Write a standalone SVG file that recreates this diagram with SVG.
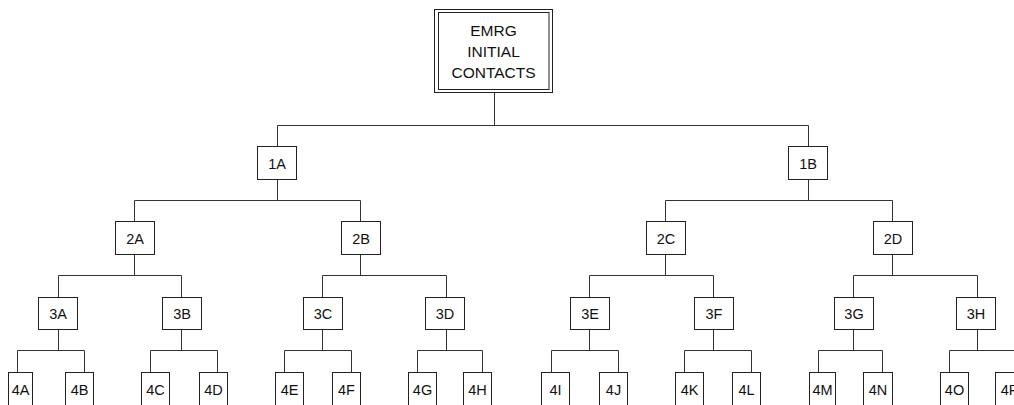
<svg xmlns="http://www.w3.org/2000/svg" width="1014" height="405" viewBox="0 0 1014 405">
<style>
.b{fill:#fff;stroke:#222;stroke-width:1}
.t{font-family:"Liberation Sans",Arial,sans-serif;font-size:14.5px;fill:#111;text-anchor:middle}
.tt{font-family:"Liberation Sans",Arial,sans-serif;font-size:15.5px;fill:#111;text-anchor:middle}
#connectors path{fill:none;stroke:#333;stroke-width:1}
</style>
<rect width="1014" height="405" fill="#fff"/>
<g id="connectors">
<path d="M494.5 92V125.5M277.5 125.5H808.5M277.5 125.5V146.5M808.5 125.5V146.5"/>
<path d="M277.5 179.5V200.5M134.5 200.5H360.5M134.5 200.5V221.5M360.5 200.5V221.5"/>
<path d="M808.5 179.5V200.5M665.5 200.5H892.5M665.5 200.5V221.5M892.5 200.5V221.5"/>
<path d="M134.5 254.5V275.5M58.5 275.5H181.5M58.5 275.5V297.5M181.5 275.5V297.5"/>
<path d="M360.5 254.5V275.5M322.5 275.5H446.5M322.5 275.5V297.5M446.5 275.5V297.5"/>
<path d="M665.5 254.5V275.5M589.5 275.5H713.5M589.5 275.5V297.5M713.5 275.5V297.5"/>
<path d="M892.5 254.5V275.5M853.5 275.5H977.5M853.5 275.5V297.5M977.5 275.5V297.5"/>
<path d="M58.5 329.5V350.5M17.5 350.5H84.5M17.5 350.5V372.5M84.5 350.5V372.5"/>
<path d="M181.5 329.5V350.5M150.5 350.5H217.5M150.5 350.5V372.5M217.5 350.5V372.5"/>
<path d="M322.5 329.5V350.5M284.5 350.5H351.5M284.5 350.5V372.5M351.5 350.5V372.5"/>
<path d="M446.5 329.5V350.5M417.5 350.5H482.5M417.5 350.5V372.5M482.5 350.5V372.5"/>
<path d="M589.5 329.5V350.5M551.5 350.5H618.5M551.5 350.5V372.5M618.5 350.5V372.5"/>
<path d="M713.5 329.5V350.5M684.5 350.5H751.5M684.5 350.5V372.5M751.5 350.5V372.5"/>
<path d="M853.5 329.5V350.5M818.5 350.5H882.5M818.5 350.5V372.5M882.5 350.5V372.5"/>
<path d="M977.5 329.5V350.5M949.5 350.5H1014.5M949.5 350.5V372.5M1014.5 350.5V372.5"/>
</g>
<g id="root">
<rect x="434.5" y="9.5" width="118" height="83" fill="#fff" stroke="#222"/>
<rect x="438.5" y="12.5" width="110.5" height="77" fill="none" stroke="#222"/>
<text class="tt" x="493.5" y="35.5">EMRG</text>
<text class="tt" x="493.5" y="56.5">INITIAL</text>
<text class="tt" x="493.5" y="77.5">CONTACTS</text>
</g>
<g id="n1A"><rect class="b" x="257.5" y="146.5" width="39" height="33"/><text class="t" x="277" y="168.5">1A</text></g>
<g id="n1B"><rect class="b" x="788.5" y="146.5" width="39" height="33"/><text class="t" x="808" y="168.5">1B</text></g>
<g id="n2A"><rect class="b" x="115.5" y="221.5" width="39" height="33"/><text class="t" x="135" y="243.5">2A</text></g>
<g id="n2B"><rect class="b" x="341.5" y="221.5" width="39" height="33"/><text class="t" x="361" y="243.5">2B</text></g>
<g id="n2C"><rect class="b" x="646.5" y="221.5" width="39" height="33"/><text class="t" x="666" y="243.5">2C</text></g>
<g id="n2D"><rect class="b" x="873.5" y="221.5" width="39" height="33"/><text class="t" x="893" y="243.5">2D</text></g>
<g id="n3A"><rect class="b" x="38.5" y="297.5" width="39" height="32"/><text class="t" x="58" y="318.5">3A</text></g>
<g id="n3B"><rect class="b" x="162.5" y="297.5" width="39" height="32"/><text class="t" x="182" y="318.5">3B</text></g>
<g id="n3C"><rect class="b" x="303.5" y="297.5" width="39" height="32"/><text class="t" x="323" y="318.5">3C</text></g>
<g id="n3D"><rect class="b" x="425.5" y="297.5" width="39" height="32"/><text class="t" x="445" y="318.5">3D</text></g>
<g id="n3E"><rect class="b" x="570.5" y="297.5" width="39" height="32"/><text class="t" x="590" y="318.5">3E</text></g>
<g id="n3F"><rect class="b" x="694.5" y="297.5" width="39" height="32"/><text class="t" x="714" y="318.5">3F</text></g>
<g id="n3G"><rect class="b" x="834.5" y="297.5" width="39" height="32"/><text class="t" x="854" y="318.5">3G</text></g>
<g id="n3H"><rect class="b" x="956.5" y="297.5" width="39" height="32"/><text class="t" x="976" y="318.5">3H</text></g>
<g id="n4A"><rect class="b" x="8.5" y="372.5" width="24" height="34"/><text class="t" x="20.5" y="395">4A</text></g>
<g id="n4B"><rect class="b" x="65.5" y="372.5" width="28" height="34"/><text class="t" x="79.5" y="395">4B</text></g>
<g id="n4C"><rect class="b" x="141.5" y="372.5" width="28" height="34"/><text class="t" x="155.5" y="395">4C</text></g>
<g id="n4D"><rect class="b" x="199.5" y="372.5" width="28" height="34"/><text class="t" x="213.5" y="395">4D</text></g>
<g id="n4E"><rect class="b" x="275.5" y="372.5" width="28" height="34"/><text class="t" x="289.5" y="395">4E</text></g>
<g id="n4F"><rect class="b" x="332.5" y="372.5" width="28" height="34"/><text class="t" x="346.5" y="395">4F</text></g>
<g id="n4G"><rect class="b" x="408.5" y="372.5" width="28" height="34"/><text class="t" x="422.5" y="395">4G</text></g>
<g id="n4H"><rect class="b" x="463.5" y="372.5" width="28" height="34"/><text class="t" x="477.5" y="395">4H</text></g>
<g id="n4I"><rect class="b" x="541.5" y="372.5" width="28" height="34"/><text class="t" x="555.5" y="395">4I</text></g>
<g id="n4J"><rect class="b" x="599.5" y="372.5" width="28" height="34"/><text class="t" x="613.5" y="395">4J</text></g>
<g id="n4K"><rect class="b" x="675.5" y="372.5" width="28" height="34"/><text class="t" x="689.5" y="395">4K</text></g>
<g id="n4L"><rect class="b" x="732.5" y="372.5" width="28" height="34"/><text class="t" x="746.5" y="395">4L</text></g>
<g id="n4M"><rect class="b" x="809.5" y="372.5" width="26" height="34"/><text class="t" x="822.5" y="395">4M</text></g>
<g id="n4N"><rect class="b" x="863.5" y="372.5" width="29" height="34"/><text class="t" x="878" y="395">4N</text></g>
<g id="n4O"><rect class="b" x="940.5" y="372.5" width="28" height="34"/><text class="t" x="954.5" y="395">4O</text></g>
<g id="n4P"><rect class="b" x="995.5" y="372.5" width="28" height="34"/><text class="t" x="1009.5" y="395">4P</text></g>
</svg>
